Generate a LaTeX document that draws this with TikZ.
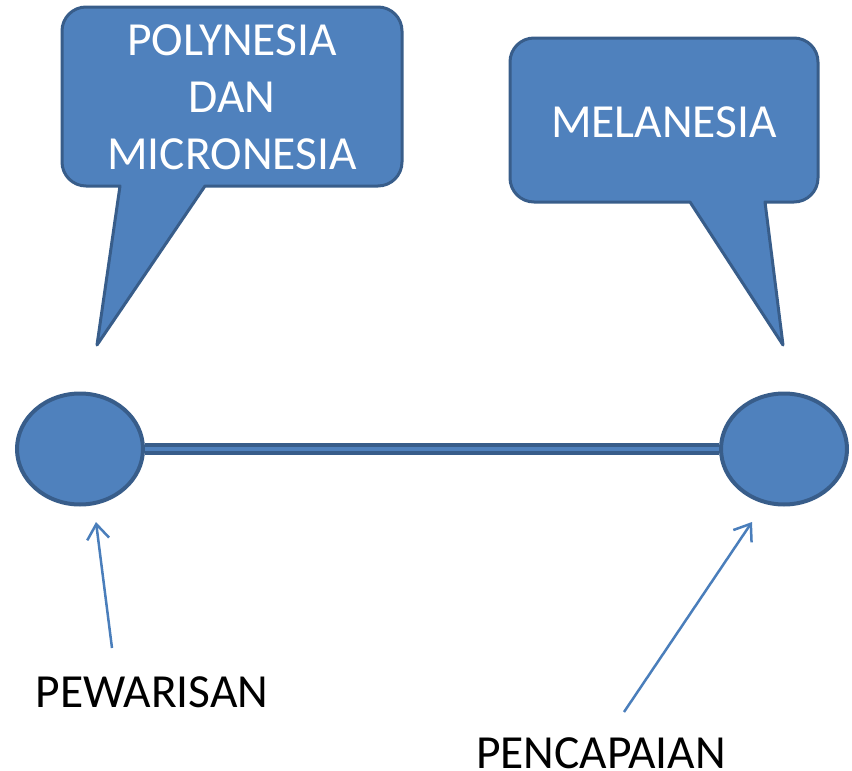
\documentclass[tikz,border=0pt]{standalone}
\usepackage{fontspec}
\setmainfont{Carlito}
\usetikzlibrary{shapes.geometric,arrows.meta}

\definecolor{bubblefill}{HTML}{4F81BD}
\definecolor{bubbleline}{HTML}{385D8A}
\definecolor{pointerline}{HTML}{4A7EBB}

\begin{document}
\begin{tikzpicture}[x=1pt, y=-1pt,
        bubble/.style={fill=bubblefill, draw=bubbleline, line width=3pt, line join=round},
        bubbletext/.style={text=white, font=\fontsize{47.5}{57}\selectfont, align=center, inner sep=0pt},
        endpoint/.style={ellipse, fill=bubblefill, draw=bubbleline, line width=4pt, minimum width=126pt, minimum height=111pt},
        caption/.style={text=black, font=\fontsize{47.5}{57}\selectfont, inner sep=0pt},
        pointer/.style={draw=pointerline, line width=2.5pt, -{Straight Barb[length=15pt,width=22pt,line width=2.5pt]}}]
        \useasboundingbox (0,0) rectangle (852,771);

        % callouts
        \draw[bubble] (232,7) [rounded corners=24pt] -- (62,7) -- (62,186) [sharp corners] -- (120,186) -- (97,345) -- (205,186) [rounded corners=24pt] -- (402,186) -- (402,7) -- cycle;
        \draw[bubble] (664,38) [rounded corners=24pt] -- (510,38) -- (510,202) [sharp corners] -- (690,202) -- (783,345) -- (765,202) [rounded corners=24pt] -- (818,202) -- (818,38) -- cycle;
        \node[bubbletext] (polytxt) at (232,97) {POLYNESIA\\DAN\\MICRONESIA};
        \node[bubbletext] (melatxt) at (664,122) {MELANESIA};

        % timeline
        \node[endpoint] (pewaris) at (80,449) {};
        \node[endpoint] (capai) at (784,449) {};
        \draw[draw=bubbleline, line width=4pt, double=bubblefill, double distance=3.5pt] (pewaris) -- (capai);

        % labels
        \node[caption] (pewlbl) at (152,692) {PEWARISAN};
        \node[caption] (caplbl) at (601,753) {PENCAPAIAN};
        \coordinate (pewfoot) at (112,648);
        \coordinate (pewtip) at (96,522);
        \coordinate (capfoot) at (624,712);
        \coordinate (captip) at (752,522);
        \draw[pointer] (pewfoot) -- (pewtip);
        \draw[pointer] (capfoot) -- (captip);
    \end{tikzpicture}
\end{document}
